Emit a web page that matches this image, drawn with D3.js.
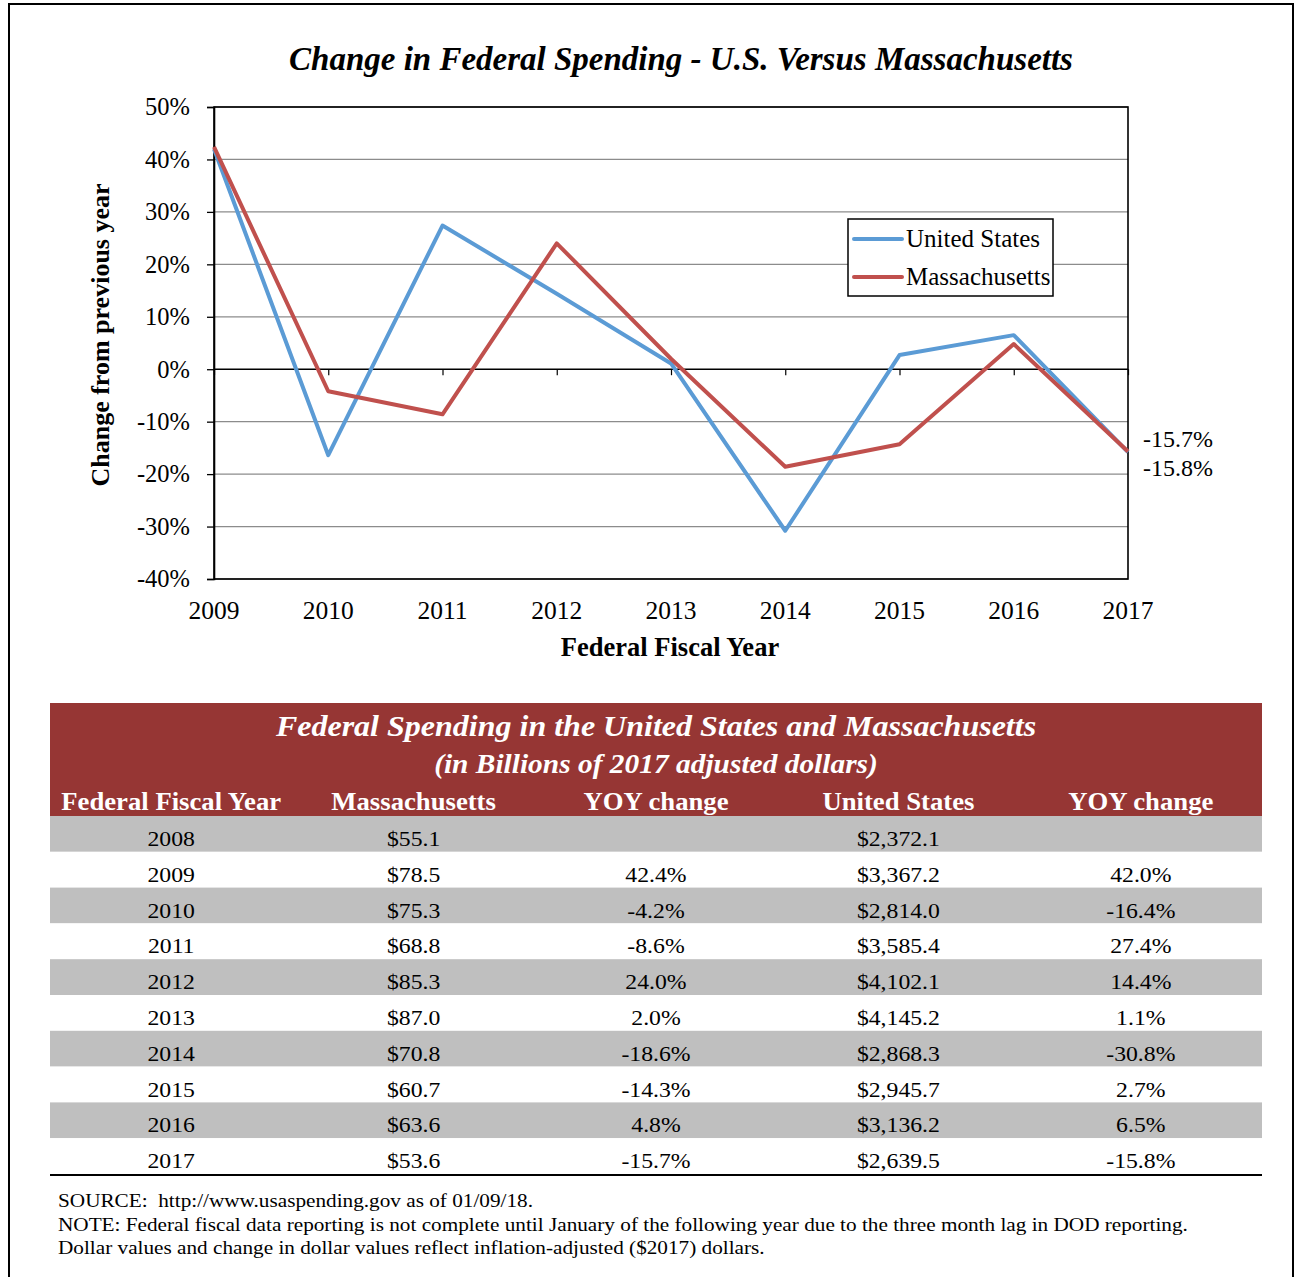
<!DOCTYPE html>
<html>
<head>
<meta charset="utf-8">
<script src="https://cdn.jsdelivr.net/npm/d3@7"></script>
<style>
  html, body { margin: 0; padding: 0; background: #fff; }
  svg { display: block; font-family: "Liberation Serif", "Times New Roman", serif; }
</style>
</head>
<body>
<svg id="chart" width="1302" height="1277"></svg>
<script>
// Federal fiscal years shown in the table
const years = [2008, 2009, 2010, 2011, 2012, 2013, 2014, 2015, 2016, 2017];
// Spending, billions of 2017 dollars
const maSpend = [55.1, 78.5, 75.3, 68.8, 85.3, 87.0, 70.8, 60.7, 63.6, 53.6];
const usSpend = [2372.1, 3367.2, 2814.0, 3585.4, 4102.1, 4145.2, 2868.3, 2945.7, 3136.2, 2639.5];
// Year-over-year change, percent
const maYoy = [null, 42.4, -4.2, -8.6, 24.0, 2.0, -18.6, -14.3, 4.8, -15.7];
const usYoy = [null, 42.0, -16.4, 27.4, 14.4, 1.1, -30.8, 2.7, 6.5, -15.8];

const yTicks = [-40, -30, -20, -10, 0, 10, 20, 30, 40, 50];
const xTicks = [2009, 2010, 2011, 2012, 2013, 2014, 2015, 2016, 2017];
const seriesNames = ["United States", "Massachusetts"];
const seriesColors = ["#5B9BD5", "#C0504D"];

const svg = d3.select("#chart");

// text placed with an optional horizontal stretch
function label(parent, x, y, str, size, opts = {}) {
  const sx = opts.sx || 1;
  return parent.append("text")
    .attr("transform", `translate(${x},${y}) scale(${sx},1)`)
    .attr("text-anchor", opts.anchor || "start")
    .attr("font-size", size)
    .attr("font-weight", opts.bold ? "bold" : "normal")
    .attr("font-style", opts.italic ? "italic" : "normal")
    .attr("fill", opts.fill || "#000")
    .style("white-space", "pre")
    .text(str);
}

// outer frame
svg.append("rect").attr("x", 9).attr("y", 4).attr("width", 1284).attr("height", 1300)
  .attr("fill", "none").attr("stroke", "#000").attr("stroke-width", 2);

// ---------- line chart ----------
const x = d3.scaleLinear().domain([2009, 2017]).range([214, 1128]);
const y = d3.scaleLinear().domain([-40, 50]).range([579, 107]);

label(svg, 681, 70, "Change in Federal Spending - U.S. Versus Massachusetts", 33,
  { anchor: "middle", bold: true, italic: true });

// gridlines
svg.append("g").selectAll("line").data(yTicks).join("line")
  .attr("x1", x(2009)).attr("x2", x(2017))
  .attr("y1", d => y(d)).attr("y2", d => y(d))
  .attr("stroke", d => d === 0 ? "#000" : "#8c8c8c")
  .attr("stroke-width", d => d === 0 ? 1.6 : 1.3);

// plot-area box
svg.append("rect").attr("x", x(2009)).attr("y", y(50))
  .attr("width", x(2017) - x(2009)).attr("height", y(-40) - y(50))
  .attr("fill", "none").attr("stroke", "#000").attr("stroke-width", 1.6);

// y axis
const yAxis = d3.axisLeft(y).tickValues(yTicks).tickSize(7).tickPadding(17)
  .tickFormat(d => d + "%");
const gy = svg.append("g").attr("transform", `translate(${x(2009)},0)`).call(yAxis);
gy.select(".domain").attr("stroke", "#000").attr("stroke-width", 1.6);
gy.selectAll(".tick line").attr("stroke", "#000").attr("stroke-width", 1.3);
gy.selectAll(".tick text").attr("font-size", 24.5).attr("font-family", "Liberation Serif").attr("fill", "#000");

// category ticks on the zero line
const xAxis = d3.axisBottom(x).tickValues(xTicks).tickSize(6).tickFormat("");
const gx0 = svg.append("g").attr("transform", `translate(0,${y(0)})`).call(xAxis);
gx0.select(".domain").remove();
gx0.selectAll(".tick line").attr("stroke", "#000").attr("stroke-width", 1.2);

// year labels along the bottom
svg.append("g").selectAll("text").data(xTicks).join("text")
  .attr("x", d => x(d)).attr("y", 619).attr("text-anchor", "middle")
  .attr("font-size", 25.5).text(d => d);

label(svg, 670, 656, "Federal Fiscal Year", 26.5, { anchor: "middle", bold: true });

svg.append("text").attr("transform", "translate(109,335) rotate(-90)")
  .attr("text-anchor", "middle").attr("font-size", 26).attr("font-weight", "bold")
  .text("Change from previous year");

// series lines
const seriesData = [usYoy, maYoy];
const line = d3.line().x(d => x(d.year)).y(d => y(d.v));
seriesData.forEach((vals, i) => {
  const pts = years.map((yr, j) => ({ year: yr, v: vals[j] })).filter(p => p.v !== null);
  svg.append("path").datum(pts).attr("d", line)
    .attr("fill", "none").attr("stroke", seriesColors[i]).attr("stroke-width", 4)
    .attr("stroke-linejoin", "round");
});

// end-of-series labels
const pct = v => v.toFixed(1) + "%";
const last = years.length - 1;
label(svg, 1143, 447, pct(maYoy[last]), 24);
label(svg, 1143, 476, pct(usYoy[last]), 24);

// legend
const lg = svg.append("g");
lg.append("rect").attr("x", 848).attr("y", 219).attr("width", 205).attr("height", 77)
  .attr("fill", "#fff").attr("stroke", "#000").attr("stroke-width", 1.5);
seriesNames.forEach((n, i) => {
  const ly = 239 + i * 38;
  lg.append("line").attr("x1", 854).attr("x2", 902).attr("y1", ly).attr("y2", ly)
    .attr("stroke", seriesColors[i]).attr("stroke-width", 4).attr("stroke-linecap", "round");
  label(lg, 906, ly + 8, n, 25);
});

// ---------- table ----------
const tLeft = 50, tRight = 1262;
const colW = (tRight - tLeft) / 5;
const colX = i => tLeft + colW * (i + 0.5);
const headerColor = "#963634";
const rowTop = 816, rowH = 35.8;

svg.append("rect").attr("x", tLeft).attr("y", 703).attr("width", tRight - tLeft).attr("height", rowTop - 703)
  .attr("fill", headerColor);
label(svg, 656, 736, "Federal Spending in the United States and Massachusetts", 30,
  { anchor: "middle", bold: true, italic: true, fill: "#fff", sx: 1.067 });
label(svg, 656, 773, "(in Billions of 2017 adjusted dollars)", 27.5,
  { anchor: "middle", bold: true, italic: true, fill: "#fff", sx: 1.07 });

const headers = ["Federal Fiscal Year", "Massachusetts", "YOY change", "United States", "YOY change"];
headers.forEach((h, i) => label(svg, colX(i), 810, h, 24.5,
  { anchor: "middle", bold: true, fill: "#fff", sx: 1.09 }));

const money = d3.format(",.1f");
const rows = years.map((yr, j) => [
  String(yr),
  "$" + money(maSpend[j]),
  maYoy[j] === null ? "" : pct(maYoy[j]),
  "$" + money(usSpend[j]),
  usYoy[j] === null ? "" : pct(usYoy[j])
]);

rows.forEach((r, j) => {
  const top = rowTop + j * rowH;
  svg.append("rect").attr("x", tLeft).attr("y", top).attr("width", tRight - tLeft).attr("height", rowH)
    .attr("fill", j % 2 === 0 ? "#bfbfbf" : "#fff");
  r.forEach((cell, i) => label(svg, colX(i), top + 30, cell, 21, { anchor: "middle", sx: 1.13 }));
});

svg.append("line").attr("x1", tLeft).attr("x2", tRight)
  .attr("y1", rowTop + rows.length * rowH + 1).attr("y2", rowTop + rows.length * rowH + 1)
  .attr("stroke", "#000").attr("stroke-width", 2);

// notes
const notes = [
  "SOURCE:  http://www.usaspending.gov as of 01/09/18.",
  "NOTE: Federal fiscal data reporting is not complete until January of the following year due to the three month lag in DOD reporting.",
  "Dollar values and change in dollar values reflect inflation-adjusted ($2017) dollars."
];
notes.forEach((n, i) => label(svg, 58, 1207 + i * 23.5, n, 18, { sx: 1.18 }));
</script>
</body>
</html>
